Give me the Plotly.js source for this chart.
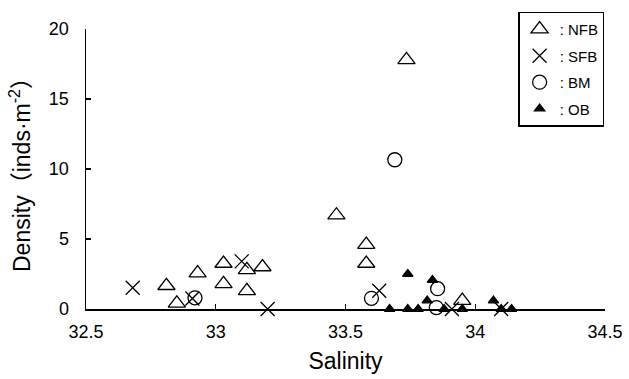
<!DOCTYPE html>
<html>
<head>
<meta charset="utf-8">
<script src="https://cdn.plot.ly/plotly-3.0.1.min.js"></script>
<style>html,body{margin:0;padding:0;background:#fff;}#chart{width:629px;height:379px;}</style>
</head>
<body>
<div id="chart"></div>
<script>
// NFB (open triangles)
const nfbSalinity = [32.81, 32.85, 32.93, 33.03, 33.03, 33.12, 33.12, 33.18, 33.465, 33.58, 33.58, 33.735, 33.95];
const nfbDensity  = [1.66, 0.4, 2.56, 3.25, 1.8, 2.8, 1.3, 3.0, 6.7, 4.6, 3.25, 17.8, 0.6];
// SFB (crosses)
const sfbSalinity = [32.68, 32.91, 33.10, 33.20, 33.63, 33.91, 34.10];
const sfbDensity  = [1.52, 0.75, 3.4, 0.0, 1.3, 0.0, 0.0];
// BM (open circles)
const bmSalinity = [32.92, 33.60, 33.69, 33.855, 33.85];
const bmDensity  = [0.8, 0.76, 10.66, 1.45, 0.1];
// OB (filled triangles)
const obSalinity = [33.67, 33.74, 33.78, 33.74, 33.835, 33.815, 33.88, 33.95, 34.07, 34.10, 34.14];
const obDensity  = [0.0, 0.0, 0.0, 2.5, 2.07, 0.6, 0.0, 0.0, 0.6, 0.0, 0.0];

const xTicks = [32.5, 33, 33.5, 34, 34.5];
const yTicks = [0, 5, 10, 15, 20];

const FONT = "Liberation Sans, Arial, 'Noto Sans CJK JP', sans-serif";

function tr(x, y, name, symbol, size, group) {
  return {
    x: x, y: y, name: name, type: 'scatter', mode: 'markers',
    cliponaxis: false, legendgroup: group,
    marker: {symbol: symbol, size: size, color: '#000', line: {color: '#000', width: 1.3}}
  };
}

const data = [
  tr(nfbSalinity, nfbDensity, ': NFB', 'triangle-up-open', 15, 'a'),
  tr(sfbSalinity, sfbDensity, ': SFB', 'x-thin-open', 14, 'b'),
  tr(bmSalinity, bmDensity, ': BM', 'circle-open', 14, 'c'),
  tr(obSalinity, obDensity, ': OB', 'triangle-up', 9, 'd')
];

const layout = {
  width: 629, height: 379,
  margin: {l: 86, r: 24, t: 20, b: 70},
  paper_bgcolor: '#fff', plot_bgcolor: '#fff',
  font: {family: FONT, color: '#000', size: 16},
  showlegend: true,
  legend: {
    x: 0.833, xanchor: 'left', y: 1.062, yanchor: 'top',
    bordercolor: '#000', borderwidth: 1.3, bgcolor: '#fff',
    font: {family: FONT, size: 15, color: '#000'},
    tracegroupgap: 4, itemwidth: 30
  },
  xaxis: {
    range: [32.5, 34.5], tickvals: xTicks, ticktext: xTicks.map(String),
    showgrid: false, zeroline: false, showline: true, linecolor: '#000', linewidth: 1.5,
    ticks: 'inside', ticklen: 5, tickwidth: 1.3, tickcolor: '#000',
    tickfont: {family: FONT, size: 18},
    ticklabelstandoff: 6,
    title: {text: 'Salinity', font: {family: FONT, size: 23}, standoff: 12}
  },
  yaxis: {
    range: [0, 20], tickvals: yTicks, ticktext: yTicks.map(String),
    showgrid: false, zeroline: false, showline: true, linecolor: '#000', linewidth: 1.5,
    ticks: 'inside', ticklen: 5, tickwidth: 1.3, tickcolor: '#000',
    tickfont: {family: FONT, size: 18},
    ticklabelstandoff: 12,
    title: {text: 'Density（inds·m<sup>-2</sup>）', font: {family: FONT, size: 23}, standoff: 12}
  }
};

Plotly.newPlot('chart', data, layout, {displayModeBar: false, staticPlot: true});
</script>
</body>
</html>
